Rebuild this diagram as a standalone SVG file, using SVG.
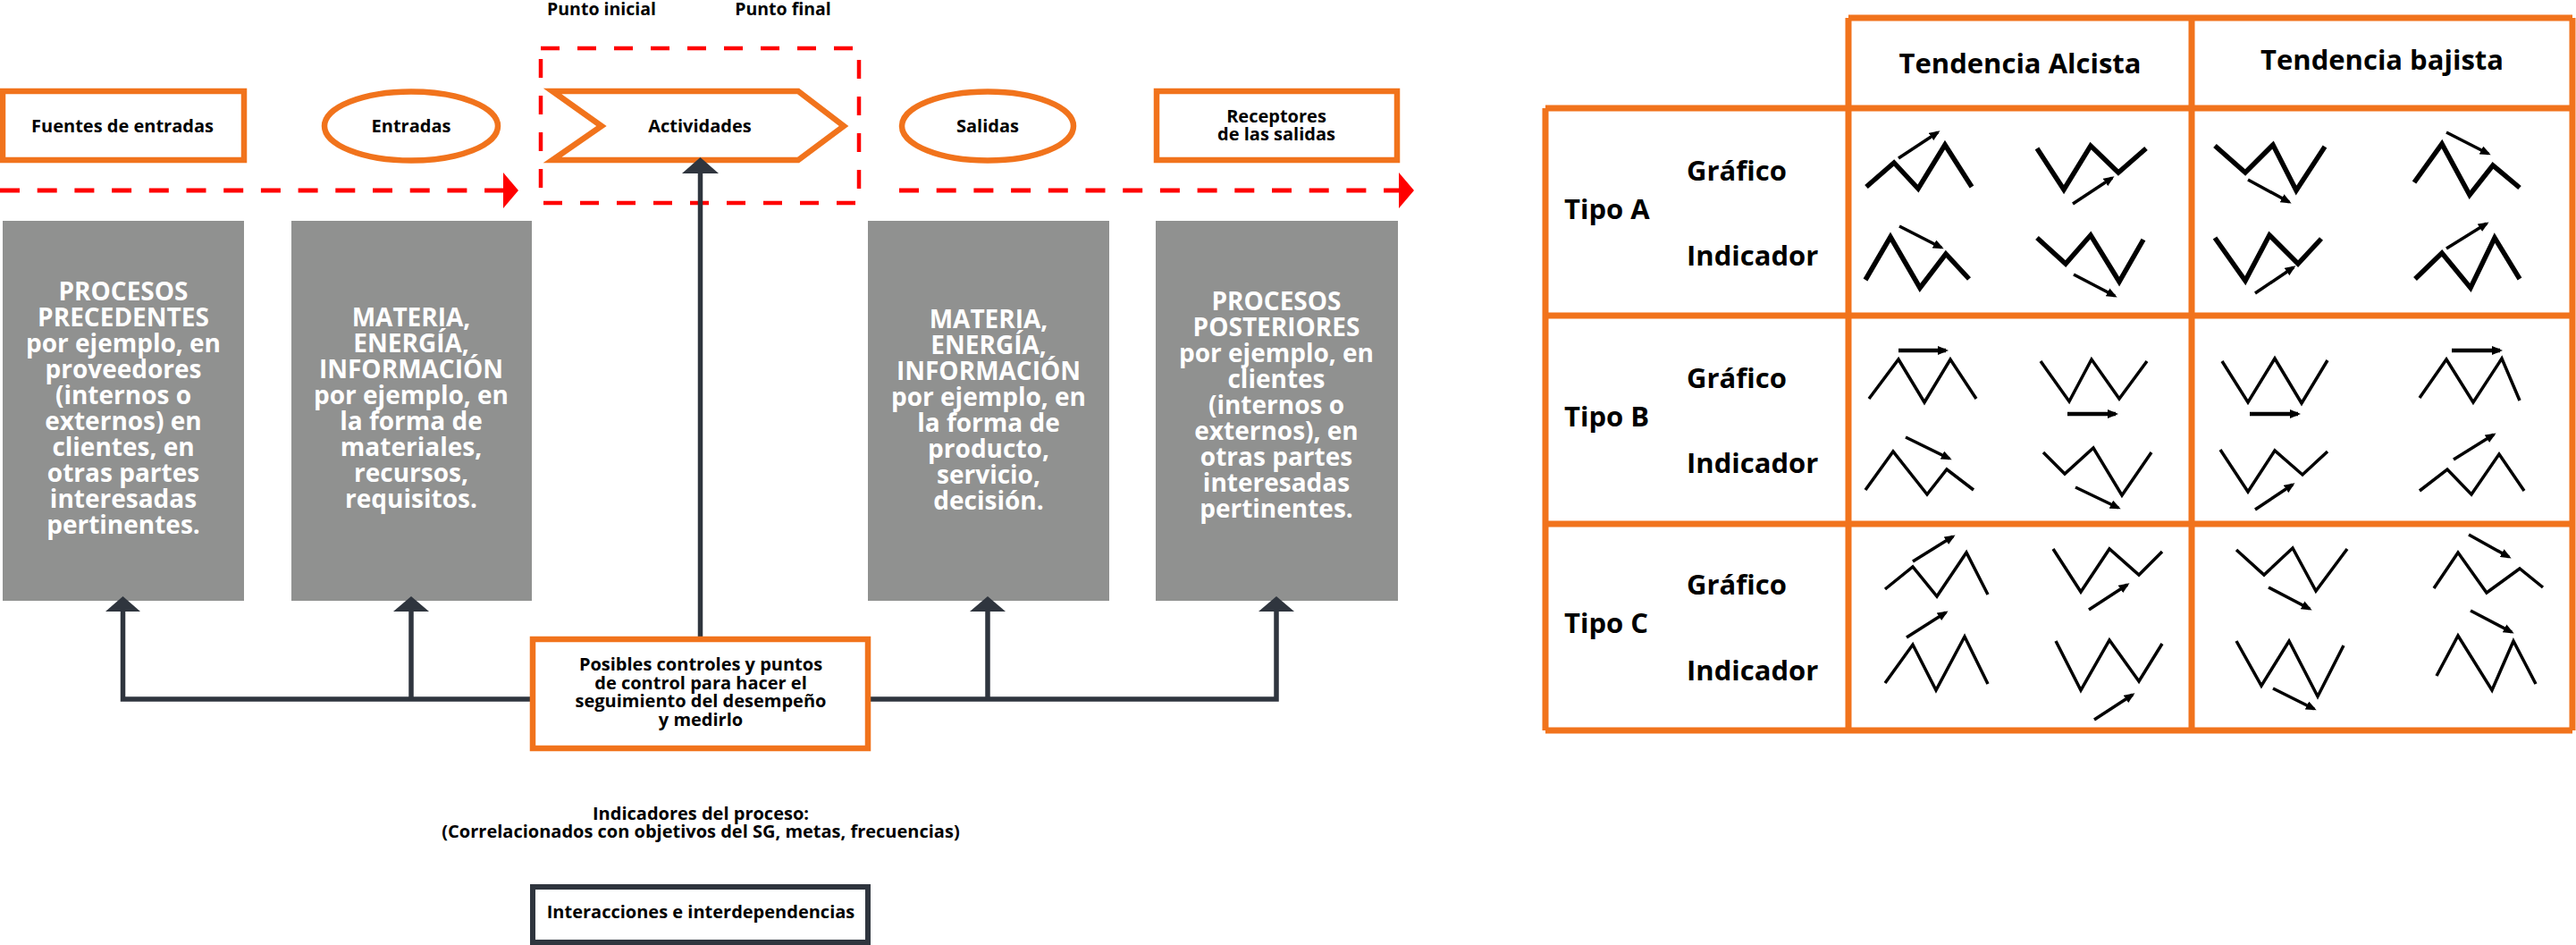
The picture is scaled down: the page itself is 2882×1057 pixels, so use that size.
<svg xmlns="http://www.w3.org/2000/svg" width="2882" height="1057" viewBox="0 0 2882 1057">
<style>
.t{font-family:'Open Sans','Noto Sans',sans-serif;font-weight:700;fill:#000}
.s19{font-size:20px}
.s18{font-size:19.5px}
.s20{font-size:20px}
.g{font-size:28px;fill:#fff}
.tb{font-size:31px}
.c{text-anchor:middle}
.ob{fill:#fff;stroke:#f1731c;stroke-width:6.5}
.gray{fill:#909190}
.rd{stroke:#ff0000;stroke-width:5;stroke-dasharray:22 19.7;fill:none}
.rdb{stroke:#ff0000;stroke-width:4.5;stroke-dasharray:21 20;fill:none}
.cn{stroke:#2f353e;stroke-width:5.5;fill:none}
.ch{fill:#2f353e}
.grid{stroke:#f1731c;stroke-width:7;fill:none}
.zA{stroke:#000;stroke-width:5.5;fill:none;stroke-linejoin:miter}
.zB{stroke:#000;stroke-width:3.5;fill:none;stroke-linejoin:miter}
.ar{stroke:#000;stroke-width:3.5;marker-end:url(#ah)}
.arh{stroke:#000;stroke-width:4.5;marker-end:url(#ah)}
</style>
<defs>
<marker id="ah" markerUnits="userSpaceOnUse" viewBox="0 0 12 10" markerWidth="12" markerHeight="10" refX="9" refY="5" orient="auto"><path d="M0,0L12,5L0,10z" fill="#000"/></marker>
</defs>

<g id="punto-labels">
<text class="t s18 c" x="673" y="17">Punto inicial</text>
<text class="t s18 c" x="876" y="17">Punto final</text>
</g>

<g id="connectors">
<line class="rd" x1="0" y1="213" x2="563" y2="213"/>
<polygon points="563,193 580,213 563,233" fill="#ff0000"/>
<line class="rd" x1="1006" y1="213" x2="1565" y2="213"/>
<polygon points="1565,193 1582,213 1565,233" fill="#ff0000"/>
<rect class="rdb" x="605" y="54" width="356" height="173"/>
<polyline class="cn" points="137.5,684 137.5,782 1428,782 1428,684"/>
<line class="cn" x1="460" y1="782" x2="460" y2="684"/>
<line class="cn" x1="1105" y1="782" x2="1105" y2="684"/>
<line class="cn" x1="783.5" y1="712" x2="783.5" y2="192"/>
</g>

<g id="fuentes">
<rect class="ob" x="3" y="102" width="270" height="77"/>
<text class="t s19 c" x="137" y="148">Fuentes de entradas</text>
</g>
<g id="entradas">
<ellipse class="ob" cx="460" cy="141" rx="97" ry="38.5"/>
<text class="t s19 c" x="460" y="148">Entradas</text>
</g>
<g id="actividades">
<path class="ob" d="M618,102L893,102L944,141L893,179L618,179L673,141Z"/>
<text class="t s19 c" x="783" y="148">Actividades</text>
</g>
<g id="salidas">
<ellipse class="ob" cx="1105" cy="141" rx="96" ry="38.5"/>
<text class="t s19 c" x="1105" y="148">Salidas</text>
</g>
<g id="receptores">
<rect class="ob" x="1294" y="102" width="269" height="77"/>
<text class="t s19 c" x="1428" y="137">Receptores</text>
<text class="t s19 c" x="1428" y="157">de las salidas</text>
</g>

<g id="procesos-precedentes">
<rect class="gray" x="3" y="247" width="270" height="425"/>
<text class="t g c" x="138" y="336">PROCESOS</text>
<text class="t g c" x="138" y="365">PRECEDENTES</text>
<text class="t g c" x="138" y="394">por ejemplo, en</text>
<text class="t g c" x="138" y="423">proveedores</text>
<text class="t g c" x="138" y="452">(internos o</text>
<text class="t g c" x="138" y="481">externos) en</text>
<text class="t g c" x="138" y="510">clientes, en</text>
<text class="t g c" x="138" y="539">otras partes</text>
<text class="t g c" x="138" y="568">interesadas</text>
<text class="t g c" x="138" y="597">pertinentes.</text>
</g>
<g id="materia-entrada">
<rect class="gray" x="326" y="247" width="269" height="425"/>
<text class="t g c" x="460" y="365">MATERIA,</text>
<text class="t g c" x="460" y="394">ENERGÍA,</text>
<text class="t g c" x="460" y="423">INFORMACIÓN</text>
<text class="t g c" x="460" y="452">por ejemplo, en</text>
<text class="t g c" x="460" y="481">la forma de</text>
<text class="t g c" x="460" y="510">materiales,</text>
<text class="t g c" x="460" y="539">recursos,</text>
<text class="t g c" x="460" y="568">requisitos.</text>
</g>
<g id="materia-salida">
<rect class="gray" x="971" y="247" width="270" height="425"/>
<text class="t g c" x="1106" y="367">MATERIA,</text>
<text class="t g c" x="1106" y="396">ENERGÍA,</text>
<text class="t g c" x="1106" y="425">INFORMACIÓN</text>
<text class="t g c" x="1106" y="454">por ejemplo, en</text>
<text class="t g c" x="1106" y="483">la forma de</text>
<text class="t g c" x="1106" y="512">producto,</text>
<text class="t g c" x="1106" y="541">servicio,</text>
<text class="t g c" x="1106" y="570">decisión.</text>
</g>
<g id="procesos-posteriores">
<rect class="gray" x="1293" y="247" width="271" height="425"/>
<text class="t g c" x="1428" y="347">PROCESOS</text>
<text class="t g c" x="1428" y="376">POSTERIORES</text>
<text class="t g c" x="1428" y="405">por ejemplo, en</text>
<text class="t g c" x="1428" y="434">clientes</text>
<text class="t g c" x="1428" y="463">(internos o</text>
<text class="t g c" x="1428" y="492">externos), en</text>
<text class="t g c" x="1428" y="521">otras partes</text>
<text class="t g c" x="1428" y="550">interesadas</text>
<text class="t g c" x="1428" y="579">pertinentes.</text>
</g>

<g id="arrowheads">
<polygon class="ch" points="118,684 137.5,667 157,684"/>
<polygon class="ch" points="440,684 460,667 480,684"/>
<polygon class="ch" points="1085,684 1105,667 1125,684"/>
<polygon class="ch" points="1408,684 1428,667 1448,684"/>
<polygon class="ch" points="763,194 783.5,176 804,194"/>
</g>

<g id="controles">
<rect class="ob" x="596" y="715" width="375" height="122"/>
<text class="t s20 c" x="784" y="750">Posibles controles y puntos</text>
<text class="t s20 c" x="784" y="771">de control para hacer el</text>
<text class="t s20 c" x="784" y="791">seguimiento del desempeño</text>
<text class="t s20 c" x="784" y="812">y medirlo</text>
</g>

<g id="indicadores">
<text class="t s20 c" x="784" y="917">Indicadores del proceso:</text>
<text class="t s20 c" x="784" y="937">(Correlacionados con objetivos del SG, metas, frecuencias)</text>
</g>

<g id="interacciones">
<rect x="596" y="992" width="375" height="62" fill="#fff" stroke="#2f353e" stroke-width="6"/>
<text class="t s20 c" x="784" y="1027">Interacciones e interdependencias</text>
</g>

<g id="tabla">
<path class="grid" d="M2068,20H2878M1729,121H2878M1729,353H2878M1729,586H2878M1729,817H2878M1729,121V817M2068,20V817M2452,20V817M2878,20V817"/>
<text class="t tb c" x="2260" y="82">Tendencia Alcista</text>
<text class="t tb c" x="2665" y="78">Tendencia bajista</text>
<text class="t tb" x="1750" y="245">Tipo A</text>
<text class="t tb" x="1887" y="202">Gráfico</text>
<text class="t tb" x="1887" y="297">Indicador</text>
<text class="t tb" x="1750" y="477">Tipo B</text>
<text class="t tb" x="1887" y="434">Gráfico</text>
<text class="t tb" x="1887" y="529">Indicador</text>
<text class="t tb" x="1750" y="708">Tipo C</text>
<text class="t tb" x="1887" y="665">Gráfico</text>
<text class="t tb" x="1887" y="761">Indicador</text>
</g>

<g id="iconos">
<polyline class="zA" points="2088,209 2119,182 2146,211 2176,162 2206,209"/>
<line class="ar" x1="2124" y1="177" x2="2168" y2="148"/>
<polyline class="zA" points="2279,166 2309,212 2339,163 2370,193 2401,166"/>
<line class="ar" x1="2319" y1="228" x2="2363" y2="199"/>
<polyline class="zA" points="2478,163 2512,193 2543,162 2569,213 2601,164"/>
<line class="ar" x1="2515" y1="201" x2="2561" y2="226"/>
<polyline class="zA" points="2701,204 2732,161 2763,218 2789,185 2819,210"/>
<line class="ar" x1="2737" y1="148" x2="2784" y2="172"/>
<polyline class="zA" points="2087,313 2115,265 2148,322 2177,284 2203,312"/>
<line class="ar" x1="2125" y1="253" x2="2172" y2="277"/>
<polyline class="zA" points="2279,266 2311,295 2339,263 2371,315 2398,268"/>
<line class="ar" x1="2320" y1="307" x2="2366" y2="331"/>
<polyline class="zA" points="2478,266 2512,314 2539,263 2571,295 2597,267"/>
<line class="ar" x1="2523" y1="328" x2="2566" y2="299"/>
<polyline class="zA" points="2702,312 2732,283 2764,322 2791,266 2819,312"/>
<line class="ar" x1="2737" y1="278" x2="2782" y2="250"/>

<polyline class="zB" points="2091,446 2124,402 2153,450 2182,402 2211,446"/>
<line class="arh" x1="2124" y1="392" x2="2177" y2="392"/>
<polyline class="zB" points="2283,404 2315,449 2340,402 2371,446 2402,404"/>
<line class="arh" x1="2313" y1="463" x2="2367" y2="463"/>
<polyline class="zB" points="2486,404 2515,450 2545,401 2575,451 2604,403"/>
<line class="arh" x1="2517" y1="463" x2="2571" y2="463"/>
<polyline class="zB" points="2707,445 2737,402 2767,450 2799,401 2819,448"/>
<line class="arh" x1="2743" y1="392" x2="2797" y2="392"/>
<polyline class="zB" points="2087,548 2118,505 2156,553 2178,525 2208,548"/>
<line class="ar" x1="2132" y1="489" x2="2181" y2="513"/>
<polyline class="zB" points="2286,506 2310,530 2342,501 2374,554 2407,506"/>
<line class="ar" x1="2322" y1="545" x2="2370" y2="568"/>
<polyline class="zB" points="2484,503 2515,550 2545,504 2576,531 2604,505"/>
<line class="ar" x1="2523" y1="570" x2="2565" y2="542"/>
<polyline class="zB" points="2707,549 2738,525 2765,553 2796,508 2824,549"/>
<line class="ar" x1="2745" y1="514" x2="2790" y2="486"/>

<polyline class="zB" points="2109,659 2140,634 2167,667 2200,618 2224,665"/>
<line class="ar" x1="2140" y1="628" x2="2185" y2="600"/>
<polyline class="zB" points="2297,614 2328,662 2360,614 2393,643 2419,617"/>
<line class="ar" x1="2337" y1="682" x2="2380" y2="654"/>
<polyline class="zB" points="2502,615 2533,643 2565,613 2591,661 2626,614"/>
<line class="ar" x1="2538" y1="657" x2="2584" y2="681"/>
<polyline class="zB" points="2723,658 2750,618 2782,663 2819,636 2845,657"/>
<line class="ar" x1="2762" y1="598" x2="2807" y2="623"/>
<polyline class="zB" points="2109,764 2140,721 2166,772 2198,712 2224,765"/>
<line class="ar" x1="2133" y1="713" x2="2177" y2="685"/>
<polyline class="zB" points="2300,717 2328,772 2360,716 2393,762 2419,720"/>
<line class="ar" x1="2343" y1="805" x2="2386" y2="777"/>
<polyline class="zB" points="2502,717 2530,767 2561,717 2593,779 2622,722"/>
<line class="ar" x1="2543" y1="770" x2="2589" y2="793"/>
<polyline class="zB" points="2726,756 2750,711 2788,772 2812,717 2837,765"/>
<line class="ar" x1="2764" y1="683" x2="2810" y2="707"/>
</g>
</svg>
